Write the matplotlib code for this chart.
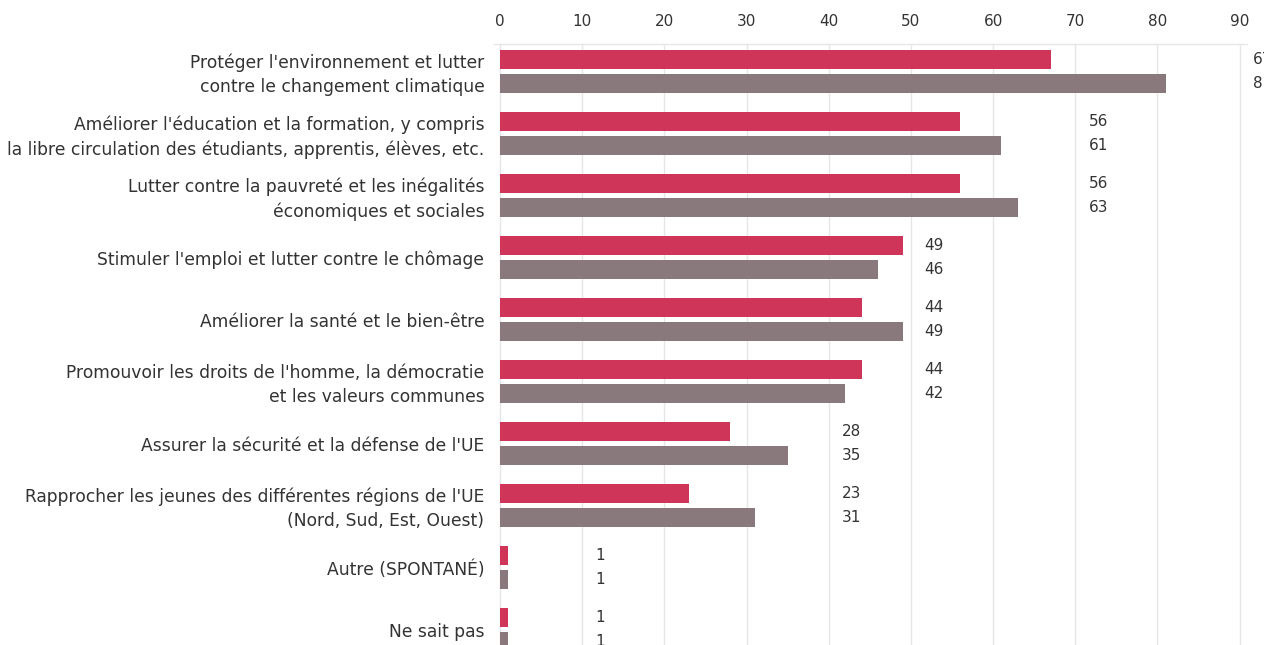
import math
import matplotlib
matplotlib.use('Agg')
import matplotlib.pyplot as plt
import matplotlib.transforms as mtransforms

# Data
categories = [
    "Protéger l'environnement et lutter\ncontre le changement climatique",
    "Améliorer l'éducation et la formation, y compris\nla libre circulation des étudiants, apprentis, élèves, etc.",
    "Lutter contre la pauvreté et les inégalités\néconomiques et sociales",
    "Stimuler l'emploi et lutter contre le chômage",
    "Améliorer la santé et le bien-être",
    "Promouvoir les droits de l'homme, la démocratie\net les valeurs communes",
    "Assurer la sécurité et la défense de l'UE",
    "Rapprocher les jeunes des différentes régions de l'UE\n(Nord, Sud, Est, Ouest)",
    "Autre (SPONTANÉ)",
    "Ne sait pas",
]
series_a = [67, 56, 56, 49, 44, 44, 28, 23, 1, 1]
series_b = [81, 61, 63, 46, 49, 42, 35, 31, 1, 1]
xticks = [0, 10, 20, 30, 40, 50, 60, 70, 80, 90]

col_a = '#CF3559'
col_b = '#8A797C'
txt = '#333333'

plt.rcParams['font.family'] = ['DejaVu Sans']

W, H = 1264, 645
fig = plt.figure(figsize=(W / 100, H / 100), dpi=100)

# axes geometry in pixels
left_px, right_px = 494, 1247
top_px = 44
ylim_top = -0.444
ylim_bot = 9.6
px_per_unit = 62.0
ax_h_px = (ylim_bot - ylim_top) * px_per_unit
bottom_px = top_px + ax_h_px
ax = fig.add_axes([left_px / W, 1 - bottom_px / H,
                   (right_px - left_px) / W, ax_h_px / H])

off = 0.194
bh = 0.315
ys = list(range(len(categories)))
ax.barh([y - off for y in ys], series_a, height=bh, color=col_a, zorder=2)
ax.barh([y + off for y in ys], series_b, height=bh, color=col_b, zorder=2)

# value labels, placed past the next gridline
for y, a, b in zip(ys, series_a, series_b):
    xl = math.ceil(max(a, b) / 10) * 10 + 1.6
    ax.text(xl, y - off, str(a), ha='left', va='center', fontsize=11,
            color=txt, clip_on=False)
    ax.text(xl, y + off, str(b), ha='left', va='center', fontsize=11,
            color=txt, clip_on=False)

ax.set_xlim(-0.75, 90.9)
ax.set_ylim(ylim_bot, ylim_top)
ax.set_xticks(xticks)
ax.xaxis.tick_top()
ax.tick_params(axis='x', length=0, pad=11, labelsize=11, labelcolor=txt)
ax.set_yticks(ys)
ax.set_yticklabels(categories, fontsize=12.3, color=txt, linespacing=1.45)
ax.tick_params(axis='y', length=0, pad=7)

# nudge two-line labels up a touch
shift = mtransforms.ScaledTranslation(0, 2 / 100, fig.dpi_scale_trans)
for lbl in ax.get_yticklabels():
    if '\n' in lbl.get_text():
        lbl.set_transform(lbl.get_transform() + shift)

ax.grid(axis='x', color='#E6E6E6', linewidth=1, zorder=0)
for s in ['left', 'right', 'bottom']:
    ax.spines[s].set_visible(False)
ax.spines['top'].set_color('#E6E6E6')
ax.spines['top'].set_linewidth(1)

fig.savefig('out.png', dpi=100)
